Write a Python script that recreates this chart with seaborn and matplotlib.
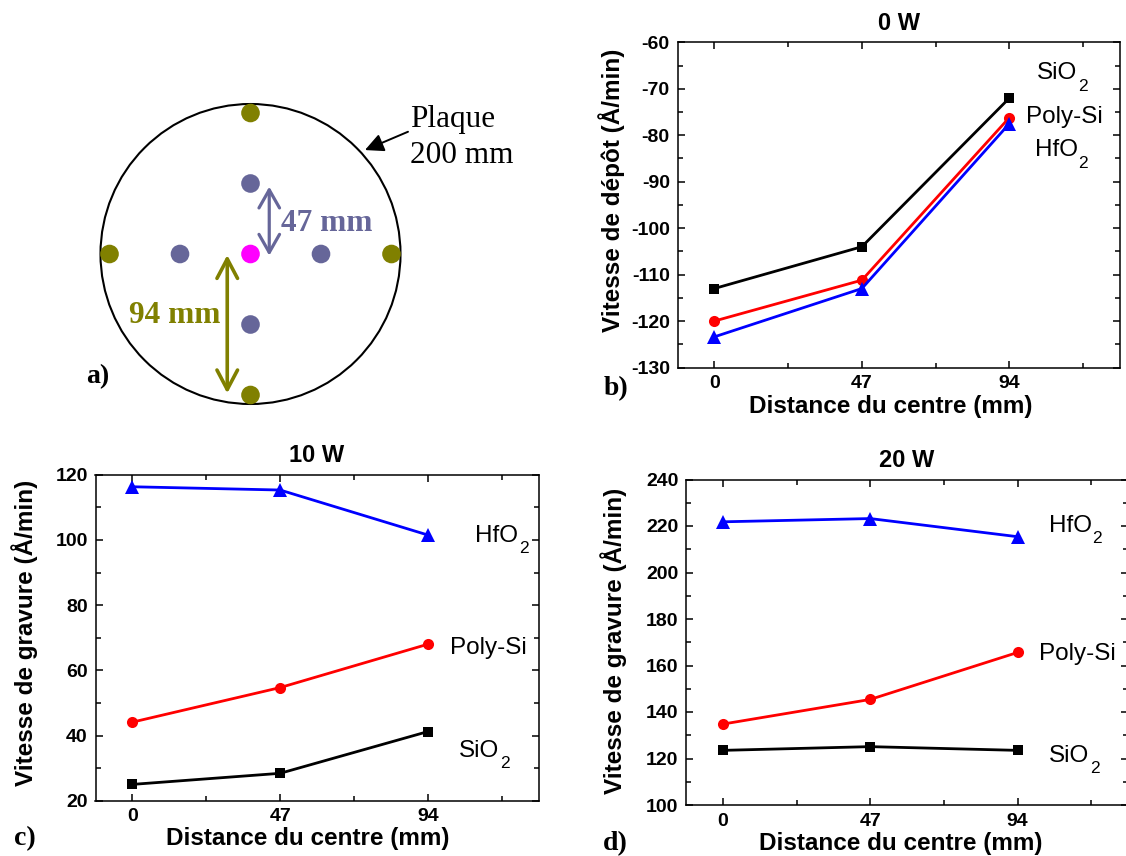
import numpy as np
import pandas as pd
import seaborn as sns
import matplotlib.pyplot as plt
from matplotlib.patches import Circle
from matplotlib.ticker import FixedLocator, MultipleLocator

# Distance of the measurement points from the wafer centre (mm)
dist = [0, 47, 94]
materials = ['SiO2', 'Poly-Si', 'HfO2']

# 0 W : deposition rate (A/min)
sio2_0w = [-113.0, -104.0, -72.0]
poly_0w = [-120.0, -111.2, -76.2]
hfo2_0w = [-123.4, -113.0, -77.5]

# 10 W : etch rate (A/min)
sio2_10w = [25.0, 28.4, 41.2]
poly_10w = [44.1, 54.7, 68.0]
hfo2_10w = [116.3, 115.3, 101.5]

# 20 W : etch rate (A/min)
sio2_20w = [123.5, 125.1, 123.5]
poly_20w = [134.8, 145.4, 165.6]
hfo2_20w = [221.8, 223.2, 215.4]

colors = {'SiO2': '#000000', 'Poly-Si': '#FF0000', 'HfO2': '#0000FF'}
markers = {'SiO2': 's', 'Poly-Si': 'o', 'HfO2': '^'}
msizes = {'SiO2': 7.5, 'Poly-Si': 8, 'HfO2': 9.5}

sns.set_style('ticks', {'axes.edgecolor': 'black', 'xtick.color': 'black',
                        'ytick.color': 'black', 'text.color': 'black',
                        'axes.labelcolor': 'black',
                        'xtick.direction': 'in', 'ytick.direction': 'in'})
plt.rcParams['font.family'] = ['Liberation Sans', 'DejaVu Sans']
plt.rcParams['font.weight'] = 'bold'
plt.rcParams['axes.unicode_minus'] = False

W, H = 1126, 856
fig = plt.figure(figsize=(W / 100, H / 100), dpi=100)


def px_axes(l, t, r, b):
    return fig.add_axes([l / W, 1 - b / H, (r - l) / W, (b - t) / H])


def formula(ax, x, y, body, sub):
    # chemical formula with a low subscript, left aligned on (x, y) baseline
    t = ax.text(x, y, body, fontsize=17.5, fontweight='normal', ha='left',
                va='baseline')
    ax.annotate(sub, xy=(1, 0), xycoords=t, xytext=(0.5, -1.5),
                textcoords='offset points', fontsize=12.5, fontweight='normal',
                ha='left', va='center')


# ---------------- a) wafer map ----------------
PX_MM = 1.5
cx, cy = 250.5, 254
axl, axt, axr, axb = 40, 80, 560, 430
ax0 = px_axes(axl, axt, axr, axb)
ax0.set_xlim((axl - cx) / PX_MM, (axr - cx) / PX_MM)
ax0.set_ylim((cy - axb) / PX_MM, (cy - axt) / PX_MM)
ax0.set_axis_off()
ax0.add_patch(Circle((0, 0), 100, fill=False, ec='black', lw=1.5))

ring_colors = {0: '#FF00FF', 47: '#666699', 94: '#808000'}
pts = []
for r in dist:
    dirs = [(0, 0)] if r == 0 else [(0, 1), (-1, 0), (1, 0), (0, -1)]
    for dx, dy in dirs:
        pts.append({'x': dx * r, 'y': dy * r, 'ring': r})
df_pts = pd.DataFrame(pts)
sns.scatterplot(data=df_pts, x='x', y='y', hue='ring', palette=ring_colors,
                s=180, linewidth=0, legend=False, ax=ax0, zorder=3)

ax0.annotate('', xy=(12.5, -1.1), xytext=(12.5, 44.9),
             arrowprops=dict(arrowstyle='<->, head_length=0.65, head_width=0.37',
                             color='#666699', lw=2.3, mutation_scale=20,
                             shrinkA=0, shrinkB=0))
ax0.text(20.1, 20.5, '47 mm', color='#666699', fontsize=22.5,
         family='Liberation Serif', fontweight='bold', ha='left', va='center')
ax0.annotate('', xy=(-15.5, -92.9), xytext=(-15.5, -0.7),
             arrowprops=dict(arrowstyle='<->, head_length=0.7, head_width=0.37',
                             color='#808000', lw=2.6, mutation_scale=20,
                             shrinkA=0, shrinkB=0))
ax0.text(-20, -41.3, '94 mm', color='#808000', fontsize=22.5,
         family='Liberation Serif', fontweight='bold', ha='right', va='center')
ax0.text(106.3, 84.9, 'Plaque', fontsize=22.5, family='Liberation Serif',
         fontweight='normal', ha='left', va='baseline')
ax0.text(106.3, 60.5, '200 mm', fontsize=22.5, family='Liberation Serif',
         fontweight='normal', ha='left', va='baseline')
ax0.annotate('', xy=(76.3, 69.3), xytext=(105, 81.5),
             arrowprops=dict(arrowstyle='-|>, head_length=0.45, head_width=0.22',
                             color='black', lw=1.4, mutation_scale=25,
                             shrinkA=0, shrinkB=0))

# ---------------- b), c), d) rate vs distance ----------------
panels = [
    dict(rect=(677.5, 42.3, 1120, 367.5), title='0 W',
         ylabel='Vitesse de dépôt (Å/min)', ylim=(-130, -60), step=10,
         data={'SiO2': sio2_0w, 'Poly-Si': poly_0w, 'HfO2': hfo2_0w},
         sio2=(102.9, -68.0), poly=(111.5, -77.4), hfo2=(102.1, -84.5),
         ylab=(-0.119, 0.546), xlab=(0.482, -0.085)),
    dict(rect=(95.5, 474.7, 538.6, 800.7), title='10 W',
         ylabel='Vitesse de gravure (Å/min)', ylim=(20, 120), step=20,
         data={'SiO2': sio2_10w, 'Poly-Si': poly_10w, 'HfO2': hfo2_10w},
         sio2=(104.0, 33.5), poly=(113.3, 65.0), hfo2=(109.1, 99.4),
         ylab=(-0.130, 0.516), xlab=(0.48, -0.080)),
    dict(rect=(686, 479.5, 1128, 805), title='20 W',
         ylabel='Vitesse de gravure (Å/min)', ylim=(100, 240), step=20,
         data={'SiO2': sio2_20w, 'Poly-Si': poly_20w, 'HfO2': hfo2_20w},
         sio2=(104.0, 118.6), poly=(113.1, 162.4), hfo2=(104.0, 217.5),
         ylab=(-0.133, 0.504), xlab=(0.486, -0.082)),
]

for p in panels:
    ax = px_axes(*p['rect'])
    for m in materials:
        sns.lineplot(x=dist, y=p['data'][m], color=colors[m], marker=markers[m],
                     markersize=msizes[m], markeredgewidth=0, linewidth=2,
                     ax=ax)
    ax.set_xlim(-11.75, 129.25)
    ax.set_ylim(*p['ylim'])
    ax.xaxis.set_major_locator(FixedLocator(dist))
    ax.xaxis.set_minor_locator(FixedLocator([23.5, 70.5, 117.5]))
    ax.yaxis.set_major_locator(MultipleLocator(p['step']))
    ax.yaxis.set_minor_locator(MultipleLocator(p['step'] / 2))
    ax.tick_params(which='both', direction='in', top=True, right=True,
                   width=1.1, labelsize=14, pad=5.5)
    ax.tick_params(which='major', length=4.8)
    ax.tick_params(which='minor', length=3.4)
    for s in ax.spines.values():
        s.set_linewidth(1.1)
    ax.set_title(p['title'], fontsize=17, fontweight='bold', pad=9)
    ax.set_xlabel('Distance du centre (mm)', fontsize=17.5, fontweight='bold')
    ax.set_ylabel(p['ylabel'], fontsize=17.5, fontweight='bold')
    ax.xaxis.set_label_coords(*p['xlab'])
    ax.yaxis.set_label_coords(*p['ylab'])
    formula(ax, *p['sio2'], 'SiO', '2')
    formula(ax, *p['hfo2'], 'HfO', '2')
    ax.text(*p['poly'], 'Poly-Si', fontsize=17.5, fontweight='normal',
            ha='center', va='baseline')

# panel letters
for t, x, y in [('a)', 0.0864, 0.5599), ('b)', 0.5475, 0.5464),
                ('c)', 0.0222, 0.0207), ('d)', 0.5464, 0.0148)]:
    fig.text(x, y, t, fontsize=20, family='Liberation Serif', fontweight='bold',
             ha='center', va='center')

fig.savefig('out.png', dpi=100)
